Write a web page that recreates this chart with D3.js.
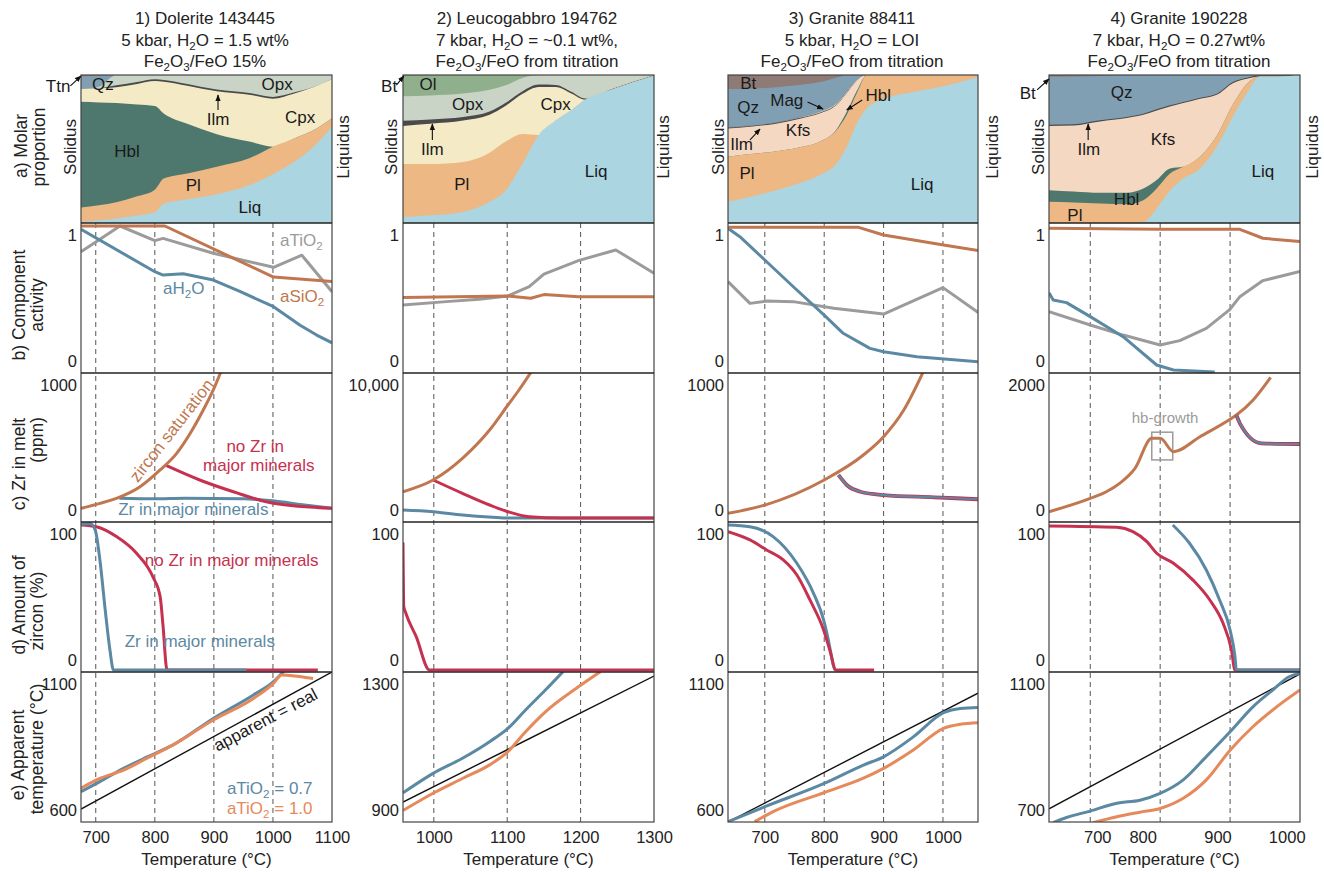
<!DOCTYPE html>
<html>
<head>
<meta charset="utf-8">
<script src="https://cdn.jsdelivr.net/npm/d3@7"></script>
<style>
  body { margin: 0; background: #fff; }
  text { font-family: "Liberation Sans", Arial, Helvetica, sans-serif; }
</style>
</head>
<body>
<script>
// ---------------- panel a : molar proportions of phases ----------------
const phases1 = {
  T:   [675, 705, 735, 770, 800, 815, 855, 905, 960, 1000, 1035, 1070, 1100],
  Liq: [0.007, 0.018, 0.03, 0.05, 0.072, 0.13, 0.16, 0.195, 0.255, 0.33, 0.41, 0.52, 0.65],
  Pl:  [0.097, 0.102, 0.11, 0.13, 0.153, 0.17, 0.175, 0.185, 0.182, 0.186, 0.16, 0.11, 0.058],
  Hbl: [0.716, 0.695, 0.67, 0.62, 0.565, 0.44, 0.335, 0.22, 0.113, 0, 0, 0, 0],
  Cpx: [0.085, 0.095, 0.108, 0.14, 0.17, 0.215, 0.258, 0.29, 0.317, 0.324, 0.303, 0.29, 0.265],
  Ilm: [0, 0, 0.012, 0.012, 0.012, 0.012, 0.012, 0.012, 0.012, 0.012, 0.008, 0, 0],
  Opx: [0, 0.01, 0.07, 0.048, 0.028, 0.033, 0.06, 0.098, 0.121, 0.148, 0.119, 0.08, 0.027],
  Qz:  [0.085, 0.075, 0, 0, 0, 0, 0, 0, 0, 0, 0, 0, 0],
  Ttn: [0.01, 0.005, 0, 0, 0, 0, 0, 0, 0, 0, 0, 0, 0]
};
const phases2 = {
  T:   [958, 995, 1040, 1076, 1098, 1121, 1143, 1166, 1188, 1206, 1242, 1300],
  Liq: [0.041, 0.052, 0.075, 0.143, 0.222, 0.403, 0.595, 0.692, 0.765, 0.833, 0.90, 0.995],
  Pl:  [0.357, 0.346, 0.337, 0.332, 0.328, 0.199, 0, 0, 0, 0, 0, 0],
  Cpx: [0.258, 0.272, 0.28, 0.256, 0.242, 0.271, 0.324, 0.227, 0.108, 0, 0, 0],
  Ilm: [0.035, 0.03, 0.025, 0.022, 0.02, 0.018, 0.016, 0.014, 0.012, 0.008, 0.004, 0.003],
  Opx: [0.165, 0.162, 0.158, 0.147, 0.118, 0.089, 0.065, 0.067, 0.115, 0.159, 0.096, 0.002],
  Ol:  [0.14, 0.138, 0.125, 0.10, 0.07, 0.02, 0, 0, 0, 0, 0, 0],
  Bt:  [0.004, 0, 0, 0, 0, 0, 0, 0, 0, 0, 0, 0]
};
const phases3 = {
  T:   [638, 675, 714, 759, 793, 821, 838, 855, 872, 905, 956, 1012, 1059],
  Liq: [0.143, 0.176, 0.217, 0.271, 0.324, 0.403, 0.516, 0.674, 0.776, 0.844, 0.889, 0.934, 0.984],
  Pl:  [0.305, 0.29, 0.265, 0.24, 0.226, 0.226, 0.215, 0.204, 0.224, 0.156, 0.111, 0.066, 0.016],
  Hbl: [0, 0, 0, 0, 0, 0.005, 0.02, 0.015, 0, 0, 0, 0, 0],
  Kfs: [0.191, 0.184, 0.186, 0.194, 0.191, 0.165, 0.128, 0.07, 0, 0, 0, 0, 0],
  Ilm: [0.006, 0.006, 0.006, 0.006, 0.006, 0.004, 0.003, 0, 0, 0, 0, 0, 0],
  Mag: [0, 0, 0, 0.004, 0.006, 0.007, 0.007, 0.005, 0, 0, 0, 0, 0],
  Qz:  [0.26, 0.251, 0.242, 0.217, 0.199, 0.172, 0.109, 0.032, 0, 0, 0, 0, 0],
  Bt:  [0.095, 0.093, 0.084, 0.068, 0.048, 0.018, 0.002, 0, 0, 0, 0, 0, 0]
};
const phases4 = {
  T:   [641, 676, 714, 752, 776, 795, 814, 833, 857, 881, 904, 924, 943, 971, 1000],
  Liq: [0, 0, 0, 0, 0.007, 0.097, 0.22, 0.301, 0.369, 0.516, 0.719, 0.878, 0.99, 0.99, 1.0],
  Pl:  [0.143, 0.138, 0.131, 0.127, 0.147, 0.136, 0.115, 0.079, 0.079, 0.074, 0.081, 0.062, 0, 0, 0],
  Hbl: [0.079, 0.075, 0.073, 0.077, 0.079, 0.057, 0.034, 0, 0, 0, 0, 0, 0, 0, 0],
  Kfs: [0.434, 0.446, 0.482, 0.505, 0.498, 0.47, 0.418, 0.43, 0.391, 0.276, 0.145, 0.035, 0, 0, 0],
  Ilm: [0.008, 0.008, 0.008, 0.008, 0.008, 0.008, 0.008, 0.008, 0.008, 0.008, 0.008, 0.006, 0.008, 0.008, 0],
  Qz:  [0.324, 0.323, 0.30, 0.283, 0.261, 0.232, 0.205, 0.182, 0.153, 0.126, 0.047, 0.019, 0.002, 0.002, 0],
  Bt:  [0.012, 0.01, 0.006, 0, 0, 0, 0, 0, 0, 0, 0, 0, 0, 0, 0]
};

// ---------------- panel b : component activity ----------------
const sio2_1 = [[675,1.0],[817,1.0],[1001,0.65],[1100,0.62]];
const tio2_1 = [[675,0.824],[741,1.0],[800,0.9],[814,0.915],[899,0.813],[1001,0.717],[1049,0.80],[1100,0.55]];
const h2o_1  = [[675,0.977],[800,0.687],[814,0.664],[848,0.673],[899,0.63],[944,0.552],[1001,0.447],[1046,0.32],[1074,0.253],[1100,0.20]];
const sio2_2 = [[958,0.511],[1101,0.521],[1132,0.505],[1150,0.53],[1197,0.516],[1300,0.516]];
const tio2_2 = [[958,0.459],[1017,0.482],[1062,0.498],[1101,0.521],[1130,0.584],[1150,0.671],[1197,0.763],[1248,0.836],[1300,0.676]];
const sio2_3 = [[638,0.991],[858,0.991],[900,0.938],[1001,0.87],[1060,0.831]];
const tio2_3 = [[638,0.619],[675,0.47],[703,0.486],[748,0.482],[816,0.436],[900,0.397],[1000,0.578],[1060,0.406]];
const h2o_3  = [[638,0.984],[658,0.927],[700,0.767],[748,0.584],[800,0.39],[832,0.265],[877,0.162],[900,0.139],[956,0.105],[1060,0.07]];
const sio2_4 = [[641,0.984],[800,0.977],[914,0.977],[947,0.916],[1000,0.893]];
const tio2_4 = [[641,0.413],[700,0.322],[747,0.253],[800,0.185],[828,0.215],[866,0.299],[899,0.425],[914,0.516],[947,0.626],[1000,0.688]];
const h2o_4  = [[641,0.543],[647,0.493],[666,0.475],[700,0.379],[747,0.242],[795,0.048],[819,0.014],[878,0]];

// ---------------- panel c : Zr in melt (ppm) ----------------
const zrSat_1 = [[675,73],[707,111],[735,149],[775,237],[809,364],[837,490],[860,642],[882,818],[899,970],[912,1110]];
const zrNo_1  = [[818,400],[876,288],[933,199],[1001,111],[1100,73]];
const zrMaj_1 = [[740,150],[800,145],[850,150],[950,145],[1000,130],[1050,100],[1100,73]];
const zrSat_2 = [[958,1992],[999,2879],[1039,4523],[1076,6667],[1101,8561],[1116,9697],[1133,11100]];
const zrNo_2  = [[999,2879],[1039,1869],[1076,985],[1101,477],[1130,98],[1175,0],[1300,0]];
const zrMaj_2 = [[958,610],[999,480],[1039,230],[1080,60],[1101,0],[1300,0]];
const zrSat_3 = [[638,35],[700,98],[800,288],[866,477],[900,616],[934,818],[966,1100]];
const zrNo_3  = [[824,326],[838,250],[861,199],[900,174],[985,157],[1060,142]];
const zrMaj_3 = [[824,326],[838,250],[861,199],[900,174],[985,157],[1060,142]];
const zrSat_4 = [[641,95],[700,298],[723,398],[742,525],[764,753],[788,1207],[800,1207],[819,1005],[857,1232],[900,1495],[909,1560],[933,1788],[958,2130]];
const zrNo_4  = [[909,1560],[914,1435],[945,1132],[1000,1121]];
const zrMaj_4 = [[909,1560],[914,1435],[945,1132],[1000,1121]];
const hbBox   = [788, 818, 880, 1300];

// ---------------- panel d : amount of zircon (%) ----------------
const zcNo_1  = [[675,100],[701,98.8],[735,92],[769,80.5],[797,64],[809,50.6],[814,30],[820,1],[822,0],[1076,0]];
const zcMaj_1 = [[675,100.5],[690,101],[699,96.6],[707,75.9],[716,41.4],[724,13.8],[730,0],[955,0]];
const zcNo_2  = [[958,88],[959,44],[962,39],[976,23],[994,0],[1300,0]];
const zcMaj_3 = [[638,100],[675,98.8],[714,92],[754,73.6],[782,52.9],[799,34.5],[807,20.7],[816,2.3],[818,0]];
const zcNo_3  = [[638,95.4],[675,89.7],[703,82.8],[731,75.9],[754,65.5],[776,48.3],[799,27.6],[811,11.5],[819,0],[884,0]];
const zcNo_4  = [[641,99.3],[738,98.4],[761,95.4],[781,88.5],[795,80.5],[819,73.6],[847,62],[871,48.3],[890,32.2],[902,13.8],[907,0],[1000,0]];
const zcMaj_4 = [[818,100],[842,87.4],[866,69],[885,48.3],[900,27.6],[907,9.2],[909,0],[1000,0]];

// ---------------- panel e : apparent temperature ----------------
const appB_1 = [[675,729],[707,760],[747,801],[786,836],[831,874],[899,956],[967,1029],[1001,1070],[1020,1106]];
const appO_1 = [[675,740],[707,770],[747,796],[786,832],[831,874],[899,951],[967,1018],[1001,1065],[1015,1091],[1029,1089],[1068,1080]];
const appB_2 = [[958,983],[999,1036],[1039,1077],[1076,1122],[1101,1158],[1125,1208],[1152,1262],[1176,1312]];
const appO_2 = [[958,935],[999,982],[1039,1022],[1076,1059],[1101,1095],[1125,1149],[1152,1203],[1197,1271],[1227,1312]];
const appB_3 = [[638,639],[700,688],[800,764],[866,824],[900,851],[950,916],[1001,995],[1029,1009],[1060,1012]];
const appO_3 = [[683,639],[714,672],[800,734],[866,781],[900,813],[950,873],[1001,944],[1029,957],[1060,962]];
const appB_4 = [[647,604],[666,618],[700,635],[738,656],[771,664],[800,682],[833,718],[866,780],[900,846],[933,913],[961,957],[985,993],[1000,1001]];
const appO_4 = [[704,604],[738,620],[771,632],[800,642],[833,669],[866,718],[900,797],[933,860],[961,904],[1000,957]];

// ---------------- axis ticks ----------------
// (column 4 prints its labels off the guide lines, as in the original figure)
const xTickAt   = [[700,800,900,1000,1100],[1000,1100,1200,1300],[700,800,900,1000],[710,775,882,981]];
const xTickText = [["700","800","900","1000","1100"],["1000","1100","1200","1300"],["700","800","900","1000"],["700","800","900","1000"]];
const dashTemps = [[700,800,900,1000],[1000,1100,1200],[700,800,900,1000],[700,800,900]];
const labB = [["0","1"],["0","1"],["0","1"],["0","1"]];
const labC = [["0","1000"],["0","10,000"],["0","1000"],["0","2000"]];
const labD = [["0","100"],["0","100"],["0","100"],["0","100"]];
const labE = [["600","1100"],["900","1300"],["600","1100"],["700","1100"]];

const titles = [
  ["1) Dolerite 143445", "5 kbar, H_2O = 1.5 wt%", "Fe_2O_3/FeO 15%"],
  ["2) Leucogabbro 194762", "7 kbar, H_2O = ~0.1 wt%,", "Fe_2O_3/FeO from titration"],
  ["3) Granite 88411", "5 kbar, H_2O = LOI", "Fe_2O_3/FeO from titration"],
  ["4) Granite 190228", "7 kbar, H_2O = 0.27wt%", "Fe_2O_3/FeO from titration"]
];

// ---------------- colours ----------------
const BLUE = "#5b89a3", RED = "#c6314f", BROWN = "#c0774f", GREY = "#9b9b9b", ORANGE = "#e6895b";
const phaseColor = {
  Liq: "#abd5e0", Pl: "#edb883", Hbl: "#4e786e", Cpx: "#f4eac6", Ilm: "#4a4a4a",
  Opx: "#c9d4c6", Qz: "#819fb3", Ttn: "#c46f55", Ol: "#90b08d", Bt: "#8e7b76",
  Kfs: "#f5d8c2", Mag: "#e4e4e4"
};

// ---------------- layout ----------------
const rowTop = {a: 75, b: 223, c: 373, d: 522, e: 672};
const rowBot = {a: 223, b: 373, c: 522, d: 672, e: 822};

const cols = [
  { x0: 81, x1: 332, dom: [675, 1100], cMax: 1000, eDom: [635, 1100], cx: 205, sol: 70, liq: 343,
    phases: phases1, order: ["Liq","Pl","Hbl","Cpx","Ilm","Opx","Qz","Ttn"],
    b: [{d: tio2_1, c: GREY}, {d: h2o_1, c: BLUE}, {d: sio2_1, c: BROWN}],
    c: [{d: zrMaj_1, c: BLUE}, {d: zrNo_1, c: RED}, {d: zrSat_1, c: BROWN}],
    d: [{d: zcNo_1, c: RED}, {d: zcMaj_1, c: BLUE}],
    e: [{d: appB_1, c: BLUE}, {d: appO_1, c: ORANGE}] },
  { x0: 403, x1: 654, dom: [958, 1300], cMax: 10000, eDom: [904, 1311], cx: 527, sol: 391, liq: 663,
    phases: phases2, order: ["Liq","Pl","Cpx","Ilm","Opx","Ol","Bt"],
    b: [{d: tio2_2, c: GREY}, {d: sio2_2, c: BROWN}],
    c: [{d: zrMaj_2, c: BLUE}, {d: zrNo_2, c: RED}, {d: zrSat_2, c: BROWN}],
    d: [{d: zcNo_2, c: RED}],
    e: [{d: appB_2, c: BLUE}, {d: appO_2, c: ORANGE}] },
  { x0: 728, x1: 978, dom: [638, 1059], cMax: 1000, eDom: [638, 1128], cx: 852, sol: 718, liq: 992,
    phases: phases3, order: ["Liq","Pl","Hbl","Kfs","Ilm","Mag","Qz","Bt"],
    b: [{d: tio2_3, c: GREY}, {d: h2o_3, c: BLUE}, {d: sio2_3, c: BROWN}],
    c: [{d: zrSat_3, c: BROWN}, {d: zrNo_3, c: RED, w: 3.8}, {d: zrMaj_3, c: BLUE, w: 2.2}],
    d: [{d: zcMaj_3, c: BLUE}, {d: zcNo_3, c: RED}],
    e: [{d: appB_3, c: BLUE}, {d: appO_3, c: ORANGE}] },
  { x0: 1049, x1: 1300, dom: [641, 1000], cMax: 2000, eDom: [606, 1005], cx: 1179, sol: 1038, liq: 1312,
    phases: phases4, order: ["Liq","Pl","Hbl","Kfs","Ilm","Qz","Bt"],
    b: [{d: tio2_4, c: GREY}, {d: h2o_4, c: BLUE}, {d: sio2_4, c: BROWN}],
    c: [{d: zrSat_4, c: BROWN}, {d: zrNo_4, c: RED, w: 3.8}, {d: zrMaj_4, c: BLUE, w: 2.2}],
    d: [{d: zcNo_4, c: RED}, {d: zcMaj_4, c: BLUE}],
    e: [{d: appB_4, c: BLUE}, {d: appO_4, c: ORANGE}] }
];

// text annotations, placed in data coordinates of their panel
const notes = [
  // column 1
  {col:0,row:"a",T:712,v:0.899,t:"Qz"}, {col:0,row:"a",T:1007,v:0.899,t:"Opx"},
  {col:0,row:"a",T:907,v:0.662,t:"Ilm",arrow:[907,0.764,907,0.865]}, {col:0,row:"a",T:1046,v:0.676,t:"Cpx"},
  {col:0,row:"a",T:753,v:0.446,t:"Hbl"}, {col:0,row:"a",T:865,v:0.216,t:"Pl"}, {col:0,row:"a",T:961,v:0.068,t:"Liq"},
  {col:0,row:"a",T:657,v:0.885,t:"Ttn",anchor:"end",arrow:[657,0.926,675,0.993]},
  {col:0,row:"b",T:1012,v:0.863,t:"aTiO_2",anchor:"start",color:GREY},
  {col:0,row:"b",T:1012,v:0.479,t:"aSiO_2",anchor:"start",color:BROWN},
  {col:0,row:"b",T:814,v:0.534,t:"aH_2O",anchor:"start",color:BLUE},
  {col:0,row:"c",T:836,v:636,t:"zircon saturation",color:BROWN,rotate:-52},
  {col:0,row:"c",T:970,v:500,t:"no Zr in",color:RED}, {col:0,row:"c",T:976,v:356,t:"major minerals",color:RED},
  {col:0,row:"c",T:738,v:23,t:"Zr in major minerals",anchor:"start",color:BLUE},
  {col:0,row:"d",T:783,v:71.7,t:"no Zr in major minerals",anchor:"start",color:RED},
  {col:0,row:"d",T:749,v:15.9,t:"Zr in major minerals",anchor:"start",color:BLUE},
  {col:0,row:"e",T:992,v:936,t:"apparent = real",rotate:-28},
  {col:0,row:"e",T:922,v:722,t:"aTiO_2 = 0.7",anchor:"start",color:BLUE},
  {col:0,row:"e",T:922,v:660,t:"aTiO_2 = 1.0",anchor:"start",color:ORANGE},
  // column 2
  {col:1,row:"a",T:992,v:0.899,t:"Ol"}, {col:1,row:"a",T:1046,v:0.764,t:"Opx"}, {col:1,row:"a",T:1166,v:0.764,t:"Cpx"},
  {col:1,row:"a",T:998,v:0.459,t:"Ilm",arrow:[998,0.561,998,0.669]}, {col:1,row:"a",T:1038,v:0.223,t:"Pl"},
  {col:1,row:"a",T:1221,v:0.311,t:"Liq"},
  {col:1,row:"a",T:950,v:0.885,t:"Bt",anchor:"end",arrow:[949,0.932,959,0.993]},
  // column 3
  {col:2,row:"a",T:672,v:0.905,t:"Bt"}, {col:2,row:"a",T:672,v:0.743,t:"Qz"},
  {col:2,row:"a",T:737,v:0.79,t:"Mag",arrow:[772,0.818,798,0.77]},
  {col:2,row:"a",T:891,v:0.824,t:"Hbl",arrow:[864,0.831,838,0.764]},
  {col:2,row:"a",T:756,v:0.588,t:"Kfs"},
  {col:2,row:"a",T:661,v:0.493,t:"Ilm",arrow:[675,0.561,692,0.635]},
  {col:2,row:"a",T:670,v:0.297,t:"Pl"}, {col:2,row:"a",T:965,v:0.223,t:"Liq"},
  // column 4
  {col:3,row:"a",T:745,v:0.845,t:"Qz"}, {col:3,row:"a",T:804,v:0.527,t:"Kfs"},
  {col:3,row:"a",T:698,v:0.459,t:"Ilm",arrow:[697,0.561,697,0.669]},
  {col:3,row:"a",T:752,v:0.122,t:"Hbl"}, {col:3,row:"a",T:678,v:0.0135,t:"Pl"}, {col:3,row:"a",T:947,v:0.311,t:"Liq"},
  {col:3,row:"a",T:622,v:0.838,t:"Bt",anchor:"end",arrow:[624,0.899,641,0.973]},
  {col:3,row:"c",T:807,v:1439,t:"hb-growth",color:GREY,size:15}
];

const rowLabels = [
  {x: 27, y: 146, t: "a) Molar"}, {x: 45, y: 147, t: "proportion"},
  {x: 25, y: 305, t: "b) Component"}, {x: 43, y: 305, t: "activity"},
  {x: 25, y: 464, t: "c) Zr in melt"}, {x: 43, y: 440, t: "(ppm)"},
  {x: 25, y: 605, t: "d) Amount of"}, {x: 43, y: 611, t: "zircon (%)"},
  {x: 24, y: 755, t: "e) Apparent"}, {x: 43, y: 749, t: "temperature (°C)"}
];

// ---------------- drawing ----------------
const svg = d3.select("body").append("svg").attr("width", 1324).attr("height", 872);
const defs = svg.append("defs");
defs.append("marker").attr("id", "arr").attr("viewBox", "0 0 10 10")
  .attr("refX", 9).attr("refY", 5).attr("markerWidth", 6).attr("markerHeight", 6)
  .attr("orient", "auto")
  .append("path").attr("d", "M0,1 L10,5 L0,9 Z").attr("fill", "#111");

// writes "H_2O" style strings with subscripts
function rich(sel, str) {
  const parts = str.split(/_(\d)/);
  parts.forEach((p, i) => {
    if (i % 2 === 1) sel.append("tspan").attr("dy", 4).attr("font-size", "0.68em").text(p);
    else if (p) sel.append("tspan").attr("dy", i > 0 ? -4 : 0).text(p);
  });
  return sel;
}

cols.forEach((c, ci) => {
  const x = d3.scaleLinear().domain(c.dom).range([c.x0, c.x1]);
  const y = {
    a: d3.scaleLinear().domain([0, 1]).range([rowBot.a, rowTop.a]),
    b: d3.scaleLinear().domain([0, 1]).range([372, 226]),
    c: d3.scaleLinear().domain([0, c.cMax]).range([518, 386]),
    d: d3.scaleLinear().domain([0, 100]).range([670, 525]),
    e: d3.scaleLinear().domain(c.eDom).range([rowBot.e, rowTop.e])
  };
  const g = svg.append("g");

  ["a","b","c","d","e"].forEach(r => {
    defs.append("clipPath").attr("id", `clip${ci}${r}`)
      .append("rect").attr("x", c.x0).attr("y", rowTop[r])
      .attr("width", c.x1 - c.x0).attr("height", rowBot[r] - rowTop[r]);
  });

  // panel a: stacked phase proportions (drawn top layer first, each from 0 up)
  const table = c.phases.T.map((t, i) => {
    const o = {T: t};
    c.order.forEach(k => o[k] = c.phases[k][i]);
    return o;
  });
  const stacked = d3.stack().keys(c.order)(table);
  const area = d3.area().x(d => x(d.data.T)).y0(y.a(0)).y1(d => y.a(d[1])).curve(d3.curveMonotoneX);
  g.append("g").attr("clip-path", `url(#clip${ci}a)`)
    .selectAll("path").data(stacked.slice().reverse()).join("path")
    .attr("d", area).attr("fill", s => phaseColor[s.key])
    .attr("stroke", s => s.key === "Mag" ? "#777" : "none").attr("stroke-width", 0.5);

  // dashed temperature guides through rows b-e
  g.append("g").selectAll("line").data(dashTemps[ci]).join("line")
    .attr("x1", d => x(d)).attr("x2", d => x(d))
    .attr("y1", rowTop.b).attr("y2", rowBot.e)
    .attr("stroke", "#555").attr("stroke-width", 1).attr("stroke-dasharray", "5,4");

  // hb-growth box
  if (ci === 3) {
    g.append("rect")
      .attr("x", x(hbBox[0])).attr("y", y.c(hbBox[3]))
      .attr("width", x(hbBox[1]) - x(hbBox[0])).attr("height", y.c(hbBox[2]) - y.c(hbBox[3]))
      .attr("fill", "none").attr("stroke", GREY).attr("stroke-width", 1.5);
  }

  // 1:1 line in panel e
  const line = (ys, curve) => d3.line().x(d => x(d[0])).y(d => ys(d[1])).curve(curve);
  g.append("path").attr("clip-path", `url(#clip${ci}e)`)
    .datum([[c.dom[0], c.dom[0]], [c.dom[1], c.dom[1]]])
    .attr("d", line(y.e, d3.curveLinear))
    .attr("fill", "none").attr("stroke", "#111").attr("stroke-width", 1.4);

  // data curves
  ["b","c","d","e"].forEach(r => {
    const curve = r === "b" ? d3.curveLinear : d3.curveMonotoneX;
    g.append("g").attr("clip-path", `url(#clip${ci}${r})`)
      .selectAll("path").data(c[r]).join("path")
      .attr("d", s => line(y[r], curve)(s.d))
      .attr("fill", "none").attr("stroke", s => s.c)
      .attr("stroke-width", s => s.w || 3).attr("stroke-linejoin", "round");
  });

  // frames
  g.append("rect").attr("x", c.x0).attr("y", rowTop.a)
    .attr("width", c.x1 - c.x0).attr("height", rowBot.e - rowTop.a)
    .attr("fill", "none").attr("stroke", "#444").attr("stroke-width", 1.2);
  g.append("g").selectAll("line").data([rowBot.a, rowBot.b, rowBot.c, rowBot.d]).join("line")
    .attr("x1", c.x0).attr("x2", c.x1).attr("y1", d => d).attr("y2", d => d)
    .attr("stroke", "#222").attr("stroke-width", 1.6);

  // y labels (inset, two per panel)
  const ylab = {b: labB[ci], c: labC[ci], d: labD[ci], e: labE[ci]};
  Object.keys(ylab).forEach(r => {
    const ls = d3.scaleLinear().domain([0, 1]).range([rowBot[r] - 12, rowTop[r] + 12]);
    const ax = g.append("g").attr("transform", `translate(${c.x0},0)`)
      .call(d3.axisLeft(ls).tickValues([0, 1]).tickSize(0).tickPadding(4)
        .tickFormat((d, i) => ylab[r][i]));
    ax.select(".domain").remove();
    ax.attr("font-size", 16.5).attr("font-family", null);
    ax.selectAll("text").attr("fill", "#222");
  });

  // x axis
  const xa = g.append("g").attr("transform", `translate(0,${rowBot.e})`)
    .call(d3.axisBottom(x).tickValues(xTickAt[ci]).tickSize(0).tickPadding(9)
      .tickFormat((d, i) => xTickText[ci][i]));
  xa.select(".domain").remove();
  xa.attr("font-size", 16.5).attr("font-family", null);
  xa.selectAll("text").attr("fill", "#222");

  g.append("text").attr("x", (c.x0 + c.x1) / 2).attr("y", 865)
    .attr("text-anchor", "middle").attr("font-size", 17).attr("fill", "#222")
    .text("Temperature (°C)");

  // titles
  titles[ci].forEach((t, i) => {
    rich(g.append("text").attr("x", c.cx).attr("y", 24 + i * 21.5)
      .attr("text-anchor", "middle").attr("font-size", 17).attr("fill", "#222"), t);
  });

  // solidus / liquidus
  [[c.sol, "Solidus"], [c.liq, "Liquidus"]].forEach(([px, t]) => {
    g.append("text").attr("transform", `translate(${px + 6},147) rotate(-90)`)
      .attr("text-anchor", "middle").attr("font-size", 17).attr("fill", "#222").text(t);
  });

  // annotations
  notes.filter(n => n.col === ci).forEach(n => {
    const ys = y[n.row];
    const px = x(n.T), py = ys(n.v);
    const tx = g.append("text")
      .attr("transform", `translate(${px},${py})` + (n.rotate ? ` rotate(${n.rotate})` : ""))
      .attr("text-anchor", n.anchor || "middle")
      .attr("font-size", n.size || 17)
      .attr("fill", n.color || "#1a1a1a");
    rich(tx, n.t);
    if (n.arrow) {
      g.append("line")
        .attr("x1", x(n.arrow[0])).attr("y1", ys(n.arrow[1]))
        .attr("x2", x(n.arrow[2])).attr("y2", ys(n.arrow[3]))
        .attr("stroke", "#111").attr("stroke-width", 1.1).attr("marker-end", "url(#arr)");
    }
  });
});

// row labels on the far left
rowLabels.forEach(l => {
  svg.append("text").attr("transform", `translate(${l.x},${l.y}) rotate(-90)`)
    .attr("text-anchor", "middle").attr("font-size", 17.5).attr("fill", "#222").text(l.t);
});
</script>
</body>
</html>
